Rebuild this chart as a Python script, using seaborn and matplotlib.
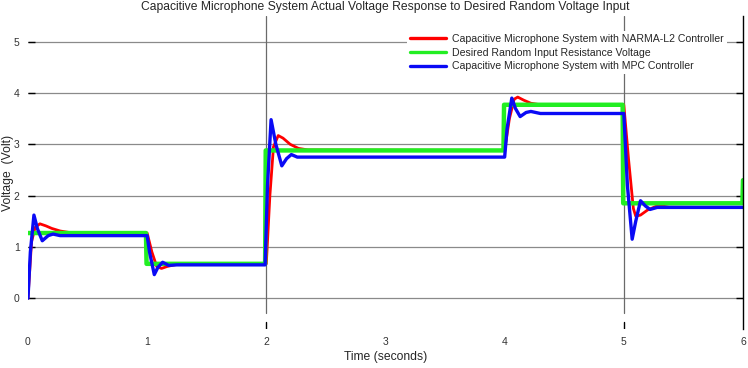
import pandas as pd
import matplotlib
matplotlib.use("Agg")
import matplotlib.pyplot as plt
import seaborn as sns

####################################################################################################
# values

# desired random input (step signal)
t_desired = [0.0, 0.99, 0.995, 1.99, 1.995, 3.99, 3.995, 4.99, 4.995, 5.995, 6.0]
v_desired = [1.27, 1.27, 0.67, 0.67, 2.88, 2.88, 3.77, 3.77, 1.85, 1.85, 2.3]

# NARMA-L2 controller response
t_narma = [0.0, 0.03, 0.06, 0.10, 0.15, 0.20, 0.27, 0.35, 0.45, 1.0,
           1.04, 1.08, 1.12, 1.17, 1.25, 1.35, 2.0,
           2.03, 2.06, 2.10, 2.14, 2.20, 2.27, 2.35, 4.0,
           4.04, 4.08, 4.11, 4.16, 4.22, 4.30, 5.0,
           5.04, 5.08, 5.10, 5.14, 5.20, 5.28, 5.38, 6.0]
v_narma = [0.0, 1.10, 1.38, 1.45, 1.41, 1.36, 1.31, 1.28, 1.27, 1.27,
           0.90, 0.62, 0.58, 0.62, 0.66, 0.67, 0.67,
           2.00, 2.95, 3.17, 3.12, 3.00, 2.92, 2.89, 2.88,
           3.50, 3.88, 3.92, 3.86, 3.80, 3.77, 3.77,
           2.70, 1.75, 1.60, 1.62, 1.72, 1.80, 1.84, 1.85]

# MPC controller response
t_mpc = [0.0, 0.02, 0.05, 0.08, 0.12, 0.17, 0.21, 0.27, 1.0,
         1.02, 1.06, 1.09, 1.13, 1.18, 1.25, 1.99,
         2.01, 2.04, 2.08, 2.13, 2.17, 2.21, 2.26, 4.0,
         4.02, 4.06, 4.09, 4.13, 4.18, 4.22, 4.30, 5.0,
         5.03, 5.07, 5.10, 5.14, 5.18, 5.22, 5.28, 6.0]
v_mpc = [0.0, 0.90, 1.62, 1.35, 1.12, 1.22, 1.25, 1.22, 1.22,
         0.90, 0.46, 0.60, 0.70, 0.64, 0.65, 0.65,
         2.20, 3.48, 3.00, 2.58, 2.72, 2.80, 2.75, 2.75,
         3.30, 3.90, 3.70, 3.54, 3.62, 3.64, 3.60, 3.60,
         2.20, 1.15, 1.50, 1.90, 1.80, 1.73, 1.77, 1.77]

x_ticks = [0, 1, 2, 3, 4, 5, 6]
y_ticks = [0, 1, 2, 3, 4, 5]

####################################################################################################

sns.set_style("white")
plt.rcParams["font.family"] = ["Liberation Sans", "DejaVu Sans"]

fig = plt.figure(figsize=(7.48, 3.68), dpi=100)
ax = fig.add_axes([0.0374, 0.106, 0.9559, 0.8505])

# gridlines behind the curves
for y in y_ticks:
    ax.axhline(y, color="#8a8a8a", linewidth=0.9, zorder=0)
for x in [2, 5]:
    ax.axvline(x, ymin=0.05, ymax=1.0, color="#6a6a6a", linewidth=0.9, zorder=0)
    ax.axvline(x, ymin=0.0, ymax=0.022, color="black", linewidth=1.0, zorder=0)

sns.lineplot(x=t_narma, y=v_narma, ax=ax, color="#ff0000", linewidth=2.0,
             estimator=None, sort=False,
             label="Capacitive Microphone System with NARMA-L2 Controller")
sns.lineplot(x=t_desired, y=v_desired, ax=ax, color="#22ee22", linewidth=3.2,
             estimator=None, sort=False,
             label="Desired Random Input Resistance Voltage")
sns.lineplot(x=t_mpc, y=v_mpc, ax=ax, color="#0a0af5", linewidth=2.4,
             estimator=None, sort=False,
             label="Capacitive Microphone System with MPC Controller")

ax.set_xlim(0, 6)
ax.set_ylim(-0.6, 5.5)
ax.set_xticks(x_ticks)
ax.set_yticks(y_ticks)
ax.tick_params(axis="x", length=0, pad=6, labelsize=7.5, colors="#333333")
ax.tick_params(axis="y", direction="in", length=5, width=1.0, pad=6,
               labelsize=7.5, colors="black", labelcolor="#333333",
               left=True, right=True)

for side in ["left", "top", "bottom"]:
    ax.spines[side].set_visible(False)
ax.spines["right"].set_color("black")
ax.spines["right"].set_linewidth(1.0)

ax.set_title("Capacitive Microphone System Actual Voltage Response to Desired Random Voltage Input",
             fontsize=8.7, pad=4)
ax.set_xlabel("Time (seconds)", fontsize=8.7, labelpad=3)
ax.set_ylabel("Voltage  (Volt)", fontsize=8.7)
ax.yaxis.set_label_coords(-0.02, 0.5)

leg = ax.legend(loc="upper right", bbox_to_anchor=(0.985, 0.97), fontsize=7.6,
                frameon=True, fancybox=False, framealpha=1.0, edgecolor="none",
                facecolor="white", handlelength=3.4, handletextpad=0.6,
                labelspacing=0.35, borderpad=0.3)
for line in leg.get_lines():
    line.set_linewidth(2.4)

fig.savefig("out.png", dpi=100)
